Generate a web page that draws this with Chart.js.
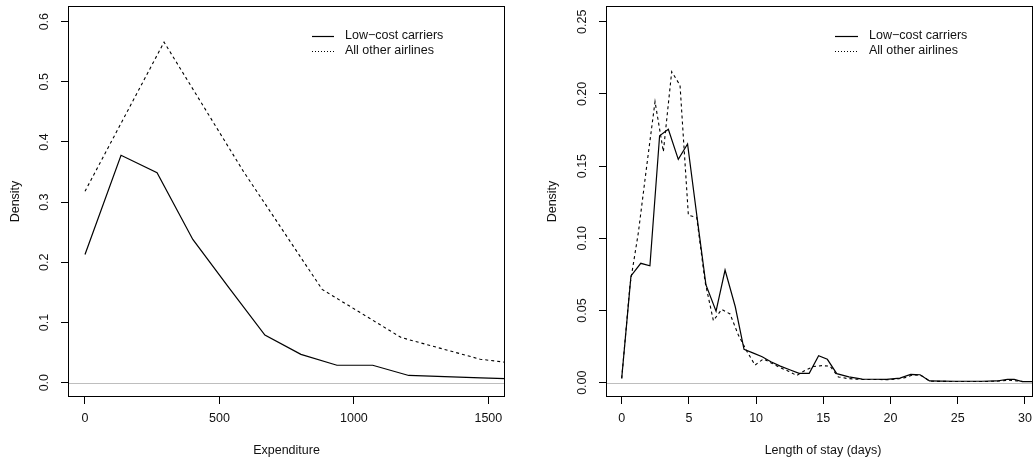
<!DOCTYPE html>
<html>
<head>
<meta charset="utf-8">
<script src="https://cdn.jsdelivr.net/npm/chart.js@4/dist/chart.umd.min.js"></script>
<style>
  html, body { margin: 0; padding: 0; background: #fff; }
  #wrap { position: relative; width: 1034px; height: 462px; overflow: hidden; }
  canvas { position: absolute; top: 0; }
</style>
</head>
<body>
<div id="wrap">
  <canvas id="left" width="520" height="462" style="left:0"></canvas>
  <canvas id="right" width="514" height="462" style="left:520px"></canvas>
</div>
<script>
// --- left panel: expenditure ---
const expLowX   = [0, 134, 268, 401, 535, 669, 803, 937, 1070, 1204, 1338, 1472, 1606];
const expLowY   = [0.213, 0.378, 0.349, 0.238, 0.158, 0.079, 0.047, 0.029, 0.029, 0.012, 0.010, 0.008, 0.006];
const expOtherX = [0, 294, 588, 882, 1176, 1470, 1764];
const expOtherY = [0.318, 0.566, 0.352, 0.155, 0.075, 0.039, 0.023];
const expXTicks = [0, 500, 1000, 1500];
const expYTicks = [0, 0.1, 0.2, 0.3, 0.4, 0.5, 0.6];

// --- right panel: length of stay ---
const stayLowX = [0, 0.69, 1.42, 2.1, 2.82, 3.47, 4.21, 4.9, 5.6, 6.27, 7.02, 7.69, 8.45, 9.1, 9.8, 10.45,
  11.1, 11.8, 12.5, 13.2, 13.95, 14.65, 15.3, 16.0, 16.9, 17.9, 18.8, 19.7, 20.7, 21.5, 22.2, 22.9,
  23.8, 24.8, 25.8, 26.8, 27.9, 28.7, 29.2, 29.8, 30.6];
const stayLowY = [0.003, 0.074, 0.0827, 0.081, 0.171, 0.1755, 0.1547, 0.1653, 0.115, 0.0677, 0.0495, 0.078,
  0.0526, 0.0231, 0.0205, 0.018, 0.0145, 0.0115, 0.009, 0.0065, 0.0065, 0.0187, 0.0162, 0.0063, 0.004,
  0.0025, 0.0024, 0.0023, 0.0032, 0.0058, 0.0055, 0.0012, 0.0011, 0.001, 0.001, 0.001, 0.0012, 0.0023,
  0.0023, 0.0008, 0.0008];
const stayOtherX = [0, 0.62, 1.24, 1.86, 2.48, 3.1, 3.72, 4.34, 4.96, 5.58, 6.2, 6.82, 7.44, 8.06, 8.68, 9.3,
  9.92, 10.54, 11.16, 11.78, 12.4, 13.02, 13.64, 14.26, 14.88, 15.5, 16.12, 16.74, 17.36, 17.98, 18.6,
  19.22, 19.84, 20.46, 21.08, 21.7, 22.32, 22.94, 24.0, 25.5, 27.0, 28.2, 28.8, 29.4, 30.0, 30.6];
const stayOtherY = [0.003, 0.068, 0.104, 0.15, 0.1946, 0.16, 0.2154, 0.206, 0.116, 0.1145, 0.07, 0.043,
  0.0508, 0.0476, 0.033, 0.022, 0.0122, 0.0165, 0.0135, 0.0105, 0.008, 0.005, 0.0085, 0.0112, 0.0118,
  0.0115, 0.004, 0.003, 0.0025, 0.0022, 0.0022, 0.0022, 0.002, 0.0025, 0.0035, 0.0055, 0.0048, 0.001,
  0.0009, 0.0008, 0.0008, 0.0012, 0.0018, 0.0012, 0.0008, 0.0008];
const stayXTicks = [0, 5, 10, 15, 20, 25, 30];
const stayYTicks = [0, 0.05, 0.1, 0.15, 0.2, 0.25];

const seriesNames = ['Low\u2212cost carriers', 'All other airlines'];
const FONT = '"Liberation Sans", Arial, Helvetica, sans-serif';

const pts = (xs, ys) => xs.map((x, i) => ({ x, y: ys[i] }));

// R-like decorations: zero line, box, rotated y labels, titles, legend
const rStyle = {
    id: 'rStyle',
    beforeDatasetsDraw(chart) {
        const { ctx, chartArea: a, scales: { y } } = chart;
        const py = Math.round(y.getPixelForValue(0)) + 0.5;
        ctx.save();
        ctx.strokeStyle = '#bebebe';
        ctx.lineWidth = 1;
        ctx.beginPath(); ctx.moveTo(a.left, py); ctx.lineTo(a.right, py); ctx.stroke();
        ctx.restore();
    },
    afterDraw(chart, args, o) {
        const { ctx, chartArea: a, scales: { x, y } } = chart;
        ctx.save();
        ctx.strokeStyle = '#000';
        ctx.lineWidth = 1;
        ctx.strokeRect(a.left + 0.5, a.top + 0.5, a.right - a.left - 1, a.bottom - a.top - 1);

        ctx.fillStyle = '#111';
        ctx.font = '12.5px ' + FONT;
        ctx.textAlign = 'center';
        ctx.textBaseline = 'middle';
        x.ticks.forEach(t => ctx.fillText(String(t.value), x.getPixelForValue(t.value), o.xTickY));
        ctx.fillText(o.xTitle, o.xTitleX, o.xTitleY);

        y.ticks.forEach(t => {
            ctx.save();
            ctx.translate(o.yTickX, y.getPixelForValue(t.value));
            ctx.rotate(-Math.PI / 2);
            ctx.fillText(t.value.toFixed(o.yDigits), 0, 0);
            ctx.restore();
        });
        ctx.save();
        ctx.translate(o.yTitleX, (a.top + a.bottom) / 2);
        ctx.rotate(-Math.PI / 2);
        ctx.fillText('Density', 0, 0);
        ctx.restore();

        // legend
        const lg = o.legend;
        ctx.textAlign = 'left';
        [[], [1, 2]].forEach((dash, i) => {
            const ly = lg.y + i * 15;
            ctx.setLineDash(dash);
            ctx.lineWidth = 1.2;
            ctx.beginPath(); ctx.moveTo(lg.x0, ly + 0.5); ctx.lineTo(lg.x1, ly + 0.5); ctx.stroke();
            ctx.setLineDash([]);
            ctx.fillText(seriesNames[i], lg.tx, ly);
        });
        ctx.restore();
    }
};

function makeChart(id, p) {
    const tickAxis = (ticks, min, max, fitKey, fitVal) => ({
        type: 'linear', min, max,
        afterBuildTicks: s => { s.ticks = ticks.map(v => ({ value: v })); },
        afterFit: s => { s[fitKey] = fitVal; },
        ticks: { display: false, autoSkip: false },
        border: { display: false },
        grid: { drawOnChartArea: false, drawTicks: true, tickLength: 7, color: '#000', lineWidth: 1 }
    });
    return new Chart(document.getElementById(id), {
        type: 'line',
        data: {
            datasets: [
                { data: pts(p.lowX, p.lowY), borderColor: '#000', borderWidth: 1.2, pointRadius: 0, tension: 0 },
                { data: pts(p.otherX, p.otherY), borderColor: '#000', borderWidth: 1.1, borderDash: [3, 3], pointRadius: 0, tension: 0 }
            ]
        },
        options: {
            responsive: false,
            animation: false,
            devicePixelRatio: 1,
            layout: { padding: { top: 6, right: p.padRight, left: 0, bottom: 0 } },
            plugins: { legend: { display: false }, tooltip: { enabled: false }, rStyle: p.deco },
            scales: {
                x: tickAxis(p.xTicks, p.xMin, p.xMax, 'height', 65),
                y: tickAxis(p.yTicks, p.yMin, p.yMax, 'width', p.yWidth)
            }
        },
        plugins: [rStyle]
    });
}

makeChart('left', {
    lowX: expLowX, lowY: expLowY, otherX: expOtherX, otherY: expOtherY,
    xTicks: expXTicks, yTicks: expYTicks,
    xMin: -63.2, xMax: 1562, yMin: -0.0238, yMax: 0.626,
    padRight: 15, yWidth: 68,
    deco: {
        xTickY: 419, xTitle: 'Expenditure', xTitleX: 286.5, xTitleY: 451,
        yTickX: 45, yTitleX: 16, yDigits: 1,
        legend: { x0: 312, x1: 334, tx: 345, y: 36 }
    }
});

makeChart('right', {
    lowX: stayLowX, lowY: stayLowY, otherX: stayOtherX, otherY: stayOtherY,
    xTicks: stayXTicks, yTicks: stayYTicks,
    xMin: -1.168, xMax: 30.6, yMin: -0.0099, yMax: 0.2609,
    padRight: 1, yWidth: 86,
    deco: {
        xTickY: 419, xTitle: 'Length of stay (days)', xTitleX: 303, xTitleY: 451,
        yTickX: 63, yTitleX: 33, yDigits: 2,
        legend: { x0: 315, x1: 338, tx: 349, y: 36 }
    }
});
</script>
</body>
</html>
